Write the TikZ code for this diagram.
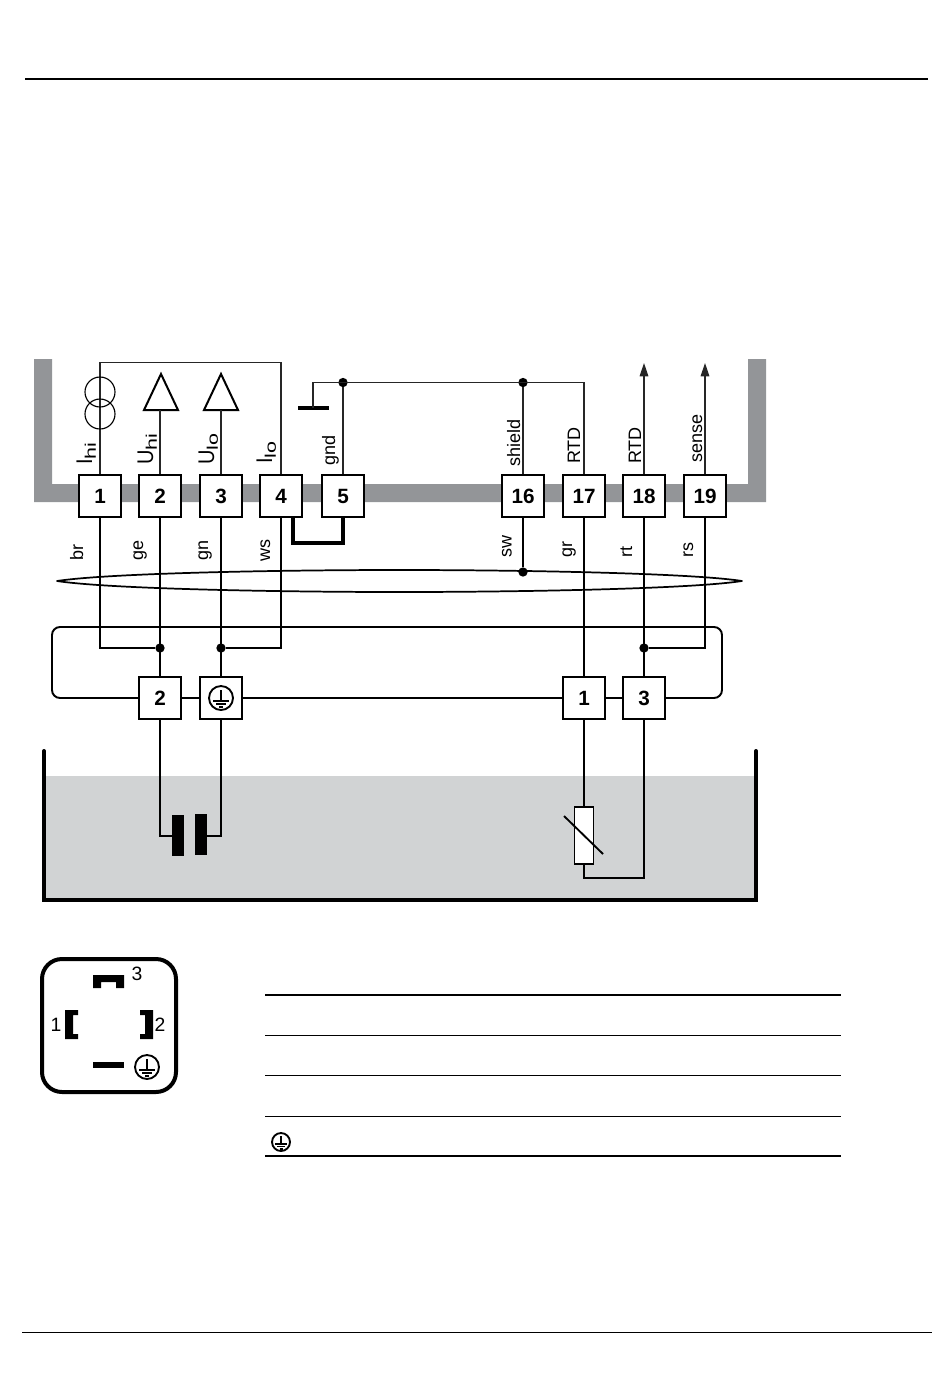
\documentclass[tikz,border=0pt]{standalone}
\usepackage{graphicx}
\usepackage{fontspec}
\setmainfont{Liberation Sans}
\usetikzlibrary{arrows.meta}
\definecolor{chan}{HTML}{939598}
\definecolor{bath}{HTML}{D1D3D4}
\newcommand{\mainsym}[1]{\scalebox{0.88}[1]{#1}}
\newcommand{\subtxt}[1]{\raisebox{-0.17em}{\scalebox{1.4}[1]{\fontsize{11.5pt}{12pt}\selectfont #1}}}
\tikzset{
  x=0.75pt,y=-0.75pt,
  termbox/.style={draw=black,fill=white,line width=1.5pt,minimum size=31pt,inner sep=0pt,font=\fontsize{15.5pt}{17pt}\selectfont\bfseries},
  upwire/.style={line width=0.8pt,draw=black!85},
  lowire/.style={line width=1.45pt,draw=black},
  dotmark/.style={circle,fill=black,draw=none,minimum size=7pt,inner sep=0pt},
  vlabel/.style={rotate=90,anchor=base west,inner sep=0pt,font=\fontsize{13.5pt}{15pt}\selectfont},
  biglabel/.style={rotate=90,anchor=base west,inner sep=0pt,font=\fontsize{17pt}{19pt}\selectfont},
  conlabel/.style={font=\fontsize{14.5pt}{16pt}\selectfont,inner sep=0pt},
  earthmark/.pic={
    \draw[line width=1.4pt] (0,0) circle (12);
    \draw[line width=1.3pt] (0,-8) -- (0,3);
    \draw[line width=1.3pt] (-8,3) -- (8,3);
    \draw[line width=1.3pt] (-5,6) -- (5,6);
    \draw[line width=1.3pt] (-2,9) -- (2,9);
  }
}
\begin{document}
\begin{tikzpicture}
\useasboundingbox (0,0) rectangle (950,1393);
% page rules
\coordinate (ruleTopL) at (25,79); \coordinate (ruleTopR) at (928,79);
\coordinate (ruleBotL) at (22,1332); \coordinate (ruleBotR) at (932,1332);
\draw[line width=1.5pt] (ruleTopL) -- (ruleTopR);
\draw[line width=0.7pt] (ruleBotL) -- (ruleBotR);
% housing channel
\fill[chan] (34,359) -- (52,359) -- (52,484) -- (748,484) -- (748,359) -- (766,359) -- (766,502) -- (34,502) -- cycle;
% bath
\fill[bath] (45,776) rectangle (755,898);
\draw[line width=3pt,line cap=round,line join=miter] (44,751) -- (44,900) -- (756,900) -- (756,751);

% device terminals
\foreach \nm/\px/\txt in {t1/100/1,t2/160/2,t3/221/3,t4/281/4,t5/343/5,t16/523/16,t17/584/17,t18/644/18,t19/705/19}
  \node[termbox] (\nm) at (\px,496) {\txt};
% plug terminals
\node[termbox] (p2) at (160,698) {2};
\node[termbox] (pE) at (221,698) {};
\node[termbox] (p1) at (584,698) {1};
\node[termbox] (p3) at (644,698) {3};
\pic at (pE) {earthmark};

% upper side
\coordinate (topL) at (100,362.5); \coordinate (topR) at (281,362.5);
\draw[upwire] (t1.north) -- (topL) -- (topR) -- (t4.north);
\draw[line width=0.85pt] (100,392) circle (15) (100,414) circle (15);
\coordinate (trihi) at (160,410);
\coordinate (trilo) at (221,410);
\draw[line width=1.5pt,line join=miter] (144,410) -- (161,374) -- (178,410) -- cycle;
\draw[line width=1.5pt,line join=miter] (204,410) -- (221,374) -- (238,410) -- cycle;
\draw[upwire] (t2.north) -- (trihi);
\draw[upwire] (t3.north) -- (trilo);
% ground and shield
\coordinate (gndbarL) at (298,408); \coordinate (gndbarR) at (329,408); \coordinate (gndbarM) at (313,408);
\draw[line width=3pt] (gndbarL) -- (gndbarR);
\coordinate (busL) at (313,382.5); \coordinate (busR) at (584,382.5);
\node[dotmark] (d5) at (343,382.5) {};
\node[dotmark] (d16) at (523,382.5) {};
\draw[upwire] (gndbarM) -- (busL) -- (busR) -- (t17.north);
\draw[upwire] (t5.north) -- (d5);
\draw[upwire] (t16.north) -- (d16);
\coordinate (tip18) at (644,363); \coordinate (tip19) at (705,363);
\draw[upwire,-{Triangle[length=10pt,width=6.5pt]}] (t18.north) -- (tip18);
\draw[upwire,-{Triangle[length=10pt,width=6.5pt]}] (t19.north) -- (tip19);
% jumper
\coordinate (jumpT) at (293,517); \coordinate (jumpA) at (293,543); \coordinate (jumpB) at (343,543);
\draw[line width=2.5pt,line join=miter] (jumpT) -- (jumpA) -- (jumpB) -- (t5.south);

% cable screen
\draw[line width=1.3pt,line join=round] (57,581) .. controls (110,573) and (280,570) .. (399,570) .. controls (520,570) and (690,573) .. (742,581) .. controls (690,589) and (520,592) .. (399,592) .. controls (280,592) and (110,589) .. (57,581) -- cycle;

% lower wires
\node[dotmark] (dU) at (160,648) {};
\node[dotmark] (dE) at (221,648) {};
\node[dotmark] (dR) at (644,648) {};
\node[dotmark] (dS) at (523,572) {};
\coordinate (c1) at (100,648); \coordinate (c4) at (281,648); \coordinate (c19) at (705,648);
\draw[lowire] (t1.south) -- (c1) -- (dU);
\draw[lowire] (t2.south) -- (p2.north);
\draw[lowire] (t3.south) -- (pE.north);
\draw[lowire] (t4.south) -- (c4) -- (dE);
\draw[lowire] (t16.south) -- (dS);
\draw[lowire] (t17.south) -- (p1.north);
\draw[lowire] (t18.south) -- (p3.north);
\draw[lowire] (t19.south) -- (c19) -- (dR);
% plug ring
\draw[lowire] (p2.east) -- (pE.west);
\draw[lowire] (pE.east) -- (p1.west);
\draw[lowire] (p1.east) -- (p3.west);
\coordinate (ringBR) at (722,698); \coordinate (ringTR) at (722,627); \coordinate (ringTL) at (52,627); \coordinate (ringBL) at (52,698);
\draw[lowire,rounded corners=6pt] (p3.east) -- (ringBR) -- (ringTR) -- (ringTL) -- (ringBL) -- (p2.west);

% capacitor
\fill (172,815) rectangle (184,856);
\fill (195,814) rectangle (207,855);
\coordinate (capL) at (172,836); \coordinate (capR) at (207,836);
\coordinate (capLb) at (160,836); \coordinate (capRb) at (221,836);
\draw[lowire] (p2.south) -- (capLb) -- (capL);
\draw[lowire] (pE.south) -- (capRb) -- (capR);
% RTD element
\node[draw=black,fill=white,line width=1.4pt,minimum width=14.2pt,minimum height=42.7pt,inner sep=0pt] (rtd) at (584,835.5) {};
\coordinate (rtdA) at (564,816); \coordinate (rtdB) at (603,854);
\draw[line width=1.4pt] (rtdA) -- (rtdB);
\coordinate (loopA) at (584,878); \coordinate (loopB) at (644,878);
\draw[lowire] (p1.south) -- (rtd.north);
\draw[lowire] (rtd.south) -- (loopA) -- (loopB) -- (p3.south);

% labels
\node[biglabel] at (92,465) {\mainsym{I}\subtxt{hi}};
\node[biglabel] at (153,465) {\mainsym{U}\subtxt{hi}};
\node[biglabel] at (214,465) {\mainsym{U}\subtxt{lo}};
\node[biglabel] at (272,464) {\mainsym{I}\subtxt{lo}};
\node[vlabel] at (335,466) {gnd};
\node[vlabel] at (520,467) {shield};
\node[vlabel] at (580,464) {RTD};
\node[vlabel] at (641,464) {RTD};
\node[vlabel] at (702,463) {sense};
\node[vlabel] at (83,561) {br};
\node[vlabel] at (143,561) {ge};
\node[vlabel] at (208,561) {gn};
\node[vlabel] at (270,562) {ws};
\node[vlabel] at (511.5,558) {sw};
\node[vlabel] at (572,558) {gr};
\node[vlabel] at (632,558) {rt};
\node[vlabel] at (693,558) {rs};

% connector face
\draw[line width=3pt,rounded corners=15pt] (42,959) rectangle (176,1092);
\fill (93,975) -- (124,975) -- (124,988) -- (116,988) -- (116,982) -- (101,982) -- (101,988) -- (93,988) -- cycle;
\fill (65,1010) -- (78,1010) -- (78,1015) -- (73,1015) -- (73,1034) -- (78,1034) -- (78,1039) -- (65,1039) -- cycle;
\fill (153,1010) -- (140,1010) -- (140,1015) -- (145,1015) -- (145,1034) -- (140,1034) -- (140,1039) -- (153,1039) -- cycle;
\fill (93,1062) rectangle (124,1068);
\node[conlabel] at (137,974) {3};
\node[conlabel] at (56,1025) {1};
\node[conlabel] at (160,1025) {2};
\pic at (147,1067) {earthmark};

% table rules
\draw[line width=1.3pt] (265,995) -- (841,995);
\draw[line width=0.7pt] (265,1035) -- (841,1035);
\draw[line width=0.7pt] (265,1075) -- (841,1075);
\draw[line width=0.7pt] (265,1116) -- (841,1116);
\draw[line width=1.3pt] (265,1156) -- (841,1156);
\pic[scale=0.75] at (281,1142) {earthmark};
\end{tikzpicture}
\end{document}
